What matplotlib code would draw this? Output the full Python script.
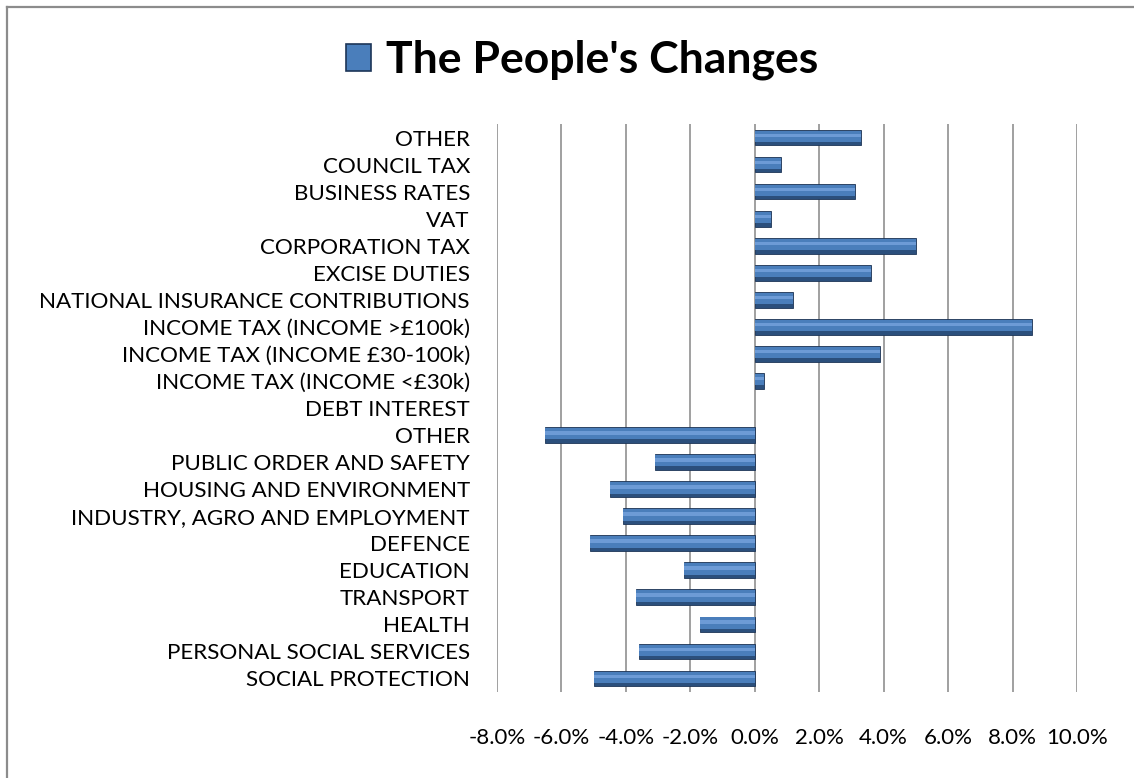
import matplotlib
matplotlib.use("Agg")
import matplotlib.pyplot as plt
from matplotlib.lines import Line2D
from matplotlib.patches import Patch
from matplotlib.ticker import FuncFormatter
import numpy as np

plt.rcParams['font.family'] = ['Lato', 'DejaVu Sans']

# Categories listed bottom to top
categories = [
    "SOCIAL PROTECTION", "PERSONAL SOCIAL SERVICES", "HEALTH", "TRANSPORT",
    "EDUCATION", "DEFENCE", "INDUSTRY, AGRO AND EMPLOYMENT",
    "HOUSING AND ENVIRONMENT", "PUBLIC ORDER AND SAFETY", "OTHER",
    "DEBT INTEREST", "INCOME TAX (INCOME <£30k)", "INCOME TAX (INCOME £30-100k)",
    "INCOME TAX (INCOME >£100k)", "NATIONAL INSURANCE CONTRIBUTIONS",
    "EXCISE DUTIES", "CORPORATION TAX", "VAT", "BUSINESS RATES",
    "COUNCIL TAX", "OTHER",
]
# Percentage change per category
changes = [
    -5.0, -3.6, -1.7, -3.7, -2.2, -5.1, -4.1, -4.5, -3.1, -6.5,
    0.0, 0.3, 3.9, 8.6, 1.2, 3.6, 5.0, 0.5, 3.1, 0.8, 3.3,
]
series_name = "The People's Changes"
x_ticks = [-8, -6, -4, -2, 0, 2, 4, 6, 8, 10]

W, H = 1134, 778
fig = plt.figure(figsize=(W / 100, H / 100), dpi=100)
fig.patch.set_facecolor("white")

# Chart frame: visible along the left and top edges only
frame_kw = dict(transform=fig.transFigure, color="#8c8c8c", lw=1.6)
fig.add_artist(Line2D([6.5 / W, 6.5 / W], [0, 1 - 6.5 / H], **frame_kw))
fig.add_artist(Line2D([6.5 / W, 1], [1 - 6.5 / H, 1 - 6.5 / H], **frame_kw))

ax = fig.add_axes([497 / W, 86 / H, 580 / W, 568 / H])
y = np.arange(len(categories))
vals = np.array(changes)
edge_w = np.where(vals == 0, 0.0, 0.6)

bh = 0.58
# Bevelled bar: dark base, mid-blue body, light highlight band
ax.barh(y, vals, height=bh, color="#2b4f7c", edgecolor="#1d3557", linewidth=edge_w, zorder=3)
ax.barh(y + bh * 0.08, vals, height=bh * 0.72, color="#4a7ebb", lw=0, zorder=4)
ax.barh(y + bh * 0.14, vals, height=bh * 0.22, color="#6d9bd6", lw=0, zorder=5)

ax.set_xlim(-8, 10)
ax.set_ylim(-0.5, len(categories) - 0.5)
ax.set_xticks(x_ticks)
ax.xaxis.set_major_formatter(FuncFormatter(lambda v, p: f"{v:.1f}%"))
ax.grid(axis="x", color="#868686", lw=1.1, zorder=0)
ax.set_axisbelow(True)
for s in ax.spines.values():
    s.set_visible(False)

ax.set_yticks(y)
ax.set_yticklabels(categories, fontsize=16.1, color="#000000")
ax.tick_params(axis="y", length=0, pad=19.5)
ax.tick_params(axis="x", length=0, pad=26, labelsize=16, labelcolor="#000000")

handle = Patch(facecolor="#4a7ebb", edgecolor="#1d3557", lw=1.2)
fig.legend([handle], [series_name], loc="center", bbox_to_anchor=(582 / W, 1 - 60 / H),
           frameon=False, prop={"weight": "bold", "size": 32},
           handlelength=0.56, handleheight=0.56, handletextpad=0.35)

fig.savefig("out.png", dpi=100)
